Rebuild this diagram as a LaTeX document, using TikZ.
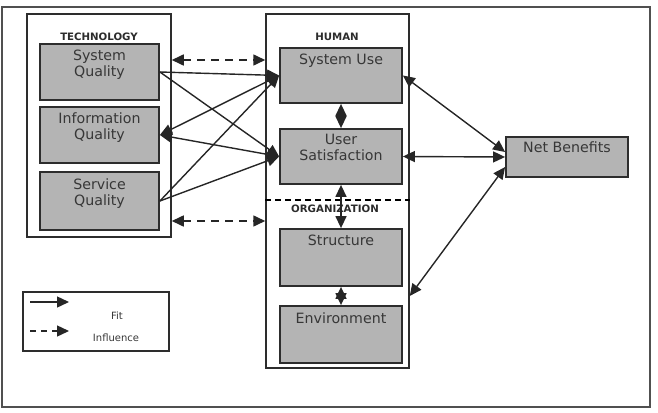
\documentclass[tikz,border=0pt]{standalone}
\usepackage{fontspec}
\setmainfont{DejaVu Sans}
\usetikzlibrary{arrows.meta,calc}
\definecolor{boxfill}{RGB}{180,180,180}
\definecolor{boxline}{RGB}{45,45,45}
\definecolor{txt}{RGB}{55,55,55}
\definecolor{frame}{RGB}{80,80,80}
\tikzset{
  every picture/.style={x=1pt,y=-1pt},
  gbox/.style={draw=boxline,line width=1.8pt,fill=boxfill,inner sep=0pt,minimum width=#1},
  gbox/.default=119pt,
  wbox/.style={draw=boxline,line width=1.5pt,fill=white,inner sep=0pt},
  boxtext/.style={text=txt,align=center,font=\fontsize{14.2}{16}\selectfont,inner sep=0pt},
  head/.style={text=txt!80!black,font=\fontsize{10.2}{11}\selectfont\bfseries,inner sep=0pt},
  tip/.style={-{Triangle[length=12pt,width=11pt]}},
  both/.style={{Triangle[length=12pt,width=11pt]}-{Triangle[length=12pt,width=11pt]}},
  conn/.style={line width=1.4pt,draw=black!85},
  dconn/.style={line width=1.6pt,draw=black!85,dash pattern=on 8pt off 6pt},
}
\begin{document}
\begin{tikzpicture}
\useasboundingbox (0,0) rectangle (658,412);
% outer frame
\node[draw=frame,line width=2pt,minimum width=648pt,minimum height=400pt,inner sep=0pt] (outer) at (326,207) {};
% group boxes
\node[wbox,minimum width=144pt,minimum height=223pt] (tech) at (99,125.5) {};
\node[wbox,minimum width=143pt,minimum height=354pt] (human) at (337.5,191) {};
\node[head] (techlbl) at (99,37) {TECHNOLOGY};
\node[head] (humlbl) at (337,37) {HUMAN};
% technology boxes
\node[gbox,minimum height=56pt] (sq) at (99.5,72) {};
\node[boxtext,anchor=north] (sqt) at ($(sq.north)+(0,7)$) {System\\Quality};
\node[gbox,minimum height=56pt] (iq) at (99.5,135) {};
\node[boxtext,anchor=north] (iqt) at ($(iq.north)+(0,6)$) {Information\\Quality};
\node[gbox,minimum height=58pt] (serq) at (99.5,201) {};
\node[boxtext,anchor=north] (serqt) at ($(serq.north)+(0,7)$) {Service\\Quality};
% human / organization boxes
\node[gbox=122pt,minimum height=55pt] (su) at (341,75.5) {};
\node[boxtext,anchor=north] (sut) at ($(su.north)+(0,7)$) {System Use};
\node[gbox=122pt,minimum height=55pt] (us) at (341,156.5) {};
\node[boxtext,anchor=north] (ust) at ($(us.north)+(0,6)$) {User\\Satisfaction};
\node[gbox=122pt,minimum height=57pt] (st) at (341,257.5) {};
\node[boxtext,anchor=north] (stt) at ($(st.north)+(0,7)$) {Structure};
\node[gbox=122pt,minimum height=57pt] (en) at (341,334.5) {};
\node[boxtext,anchor=north] (ent) at ($(en.north)+(0,7)$) {Environment};
\node[gbox=122pt,minimum height=40pt] (nb) at (567,157) {};
\node[boxtext,anchor=north] (nbt) at ($(nb.north)+(0,5)$) {Net Benefits};
% organization divider
\coordinate (dv) at (0,200);
\draw[line width=1.2pt,dash pattern=on 6pt off 4pt] (human.west |- dv) -- (human.east |- dv);
\node[head] (orglbl) at (335,209) {ORGANIZATION};
% dashed influence arrows
\coordinate (d1) at (0,60);
\coordinate (d2) at (0,221);
\draw[dconn,both] (tech.east |- d1) -- (human.west |- d1);
\draw[dconn,both] (tech.east |- d2) -- (human.west |- d2);
% solid fit arrows
\draw[conn,tip] (sq.east) -- (su.west);
\draw[conn,tip] (sq.east) -- (us.west);
\draw[conn,both] (iq.east) -- (su.west);
\draw[conn,both] (iq.east) -- (us.west);
\draw[conn,tip] (serq.east) -- (su.west);
\draw[conn,tip] (serq.east) -- (us.west);
\draw[conn,both] (su.south) -- (us.north);
\draw[conn,both] (us.south) -- (st.north);
\draw[conn,both] (st.south) -- (en.north);
% to net benefits
\coordinate (o1) at (0,296);
\draw[conn,both] (su.east) -- ($(nb.west)+(0,-5)$);
\draw[conn,both] (us.east) -- (nb.west);
\draw[conn,both] (human.east |- o1) -- ($(nb.west)+(0,10)$);
% legend
\node[draw=boxline,line width=1.5pt,minimum width=146pt,minimum height=59pt,inner sep=0pt] (legend) at (96,321.5) {};
\coordinate (l1a) at (30,302);
\coordinate (l1b) at (69,302);
\coordinate (l2a) at (30,331);
\coordinate (l2b) at (69,331);
\draw[conn,tip] (l1a) -- (l1b);
\draw[line width=1.4pt,draw=black!85,dash pattern=on 6pt off 5pt,tip] (l2a) -- (l2b);
\node[text=txt,font=\fontsize{10}{11}\selectfont,inner sep=0pt] (fit) at (117,316) {Fit};
\node[text=txt,font=\fontsize{10}{11}\selectfont,inner sep=0pt] (infl) at (116,338) {Influence};
\end{tikzpicture}
\end{document}
